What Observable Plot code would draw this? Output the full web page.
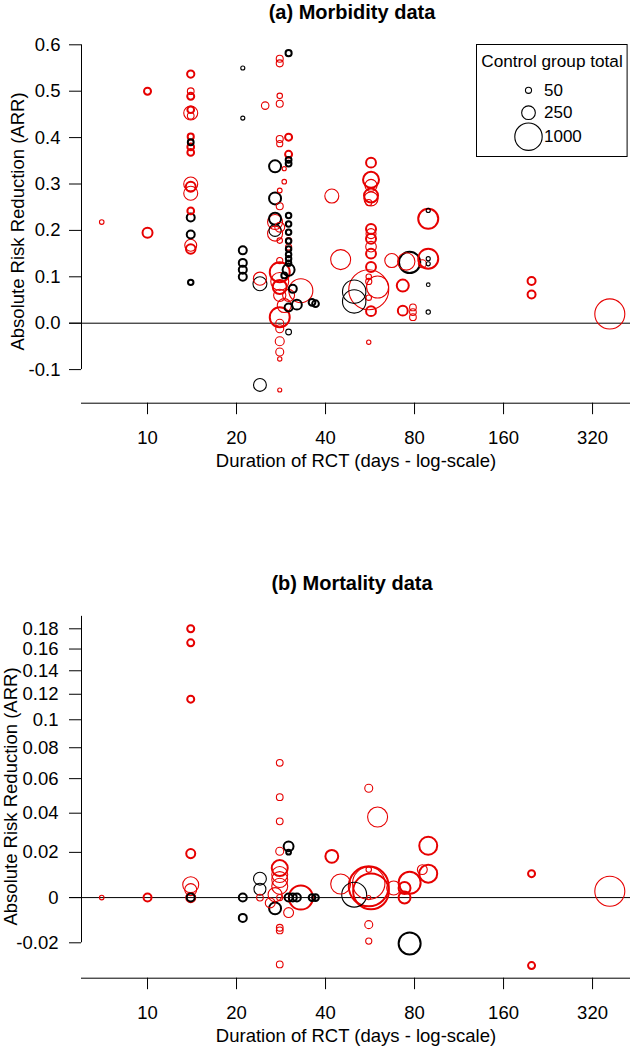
<!DOCTYPE html>
<html>
<head>
<meta charset="utf-8">
<script src="https://cdn.jsdelivr.net/npm/d3@7"></script>
<script src="https://cdn.jsdelivr.net/npm/@observablehq/plot@0.6"></script>
<style>
  html, body { margin: 0; padding: 0; background: #fff; }
  #wrap { position: relative; width: 630px; height: 1047px; overflow: hidden; background: #fff;
          font-family: "Liberation Sans", Arial, Helvetica, sans-serif; color: #000; }
  .ttl { position: absolute; left: 0; width: 704px; text-align: center; font-weight: bold;
         font-size: 20px; line-height: 24px; }
  .pnl { position: absolute; left: 0; }
  #legend { position: absolute; left: 476px; top: 44px; }
</style>
</head>
<body>
<div id="wrap">
  <div class="ttl" style="top:0px">(a) Morbidity data</div>
  <div id="pa" class="pnl" style="top:0px"></div>
  <div class="ttl" style="top:571px">(b) Mortality data</div>
  <div id="pb" class="pnl" style="top:500px"></div>
  <div id="legend"></div>
</div>
<script>
// ---------- shared axis values ----------
const xTicks = [10, 20, 40, 80, 160, 320];
const aYTicks = [-0.1, 0, 0.1, 0.2, 0.3, 0.4, 0.5, 0.6];
const bYTicks = [-0.02, 0, 0.02, 0.04, 0.06, 0.08, 0.1, 0.12, 0.14, 0.16, 0.18];
const legendSizes = [50, 250, 1000];
const legendTitle = "Control group total";
const xLabel = "Duration of RCT (days - log-scale)";
const yLabel = "Absolute Risk Reduction (ARR)";

// ---------- (a) Morbidity data ----------
const aDays = [
  7,10,10,14,14,14,14,14,14,14,
  14,14,14,14,14,14,14,14,14,14,
  14,14,21,21,21,21,21,21,24,24,
  24,25,27,27,27,27,27,27,28,28,
  28,28,28,28,29,29,28,28,28,28,
  28,28,28,28,28,29,28,28,28,28,
  28,28,28,30,30,30,30,30,30,30,
  30,30,30,30,30,30,30,30,30,29,
  31,30,30,30,32,33,36,37,42,45,
  50,50,57,57,57,57,57,56,57,57,
  57,57,57,57,56,56,56,57,56,56,
  60,67,73,73,75,77,79,79,79,85,
  89,89,89,89,89,89,89,199,199,366
];
const aARR = [
  0.218,0.500,0.195,0.537,0.500,0.489,0.460,0.453,0.447,0.402,
  0.390,0.380,0.368,0.300,0.294,0.280,0.242,0.228,0.191,0.168,
  0.160,0.088,0.550,0.442,0.157,0.130,0.115,0.100,0.085,0.096,
  -0.133,0.469,0.338,0.269,0.225,0.200,0.218,0.193,0.570,0.560,
  0.490,0.473,0.397,0.387,0.333,0.305,0.286,0.252,0.207,0.178,
  0.135,0.110,0.090,0.078,0.060,0.038,0.013,0.000,-0.012,-0.039,
  -0.062,-0.077,-0.144,0.582,0.401,0.364,0.352,0.344,0.232,0.214,
  0.196,0.177,0.160,0.148,0.139,0.129,0.178,0.164,0.115,0.103,
  0.074,0.060,0.034,-0.019,0.040,0.070,0.045,0.042,0.274,0.137,
  0.068,0.047,0.346,0.309,0.297,0.275,0.268,0.260,0.203,0.193,
  0.182,0.165,0.150,0.121,0.100,0.090,0.055,0.026,-0.041,0.072,
  0.078,0.135,0.081,0.027,0.133,0.131,0.034,0.024,0.013,0.128,
  0.139,0.225,0.243,0.139,0.128,0.083,0.024,0.091,0.062,0.020
];
const aControlN = [
  28,65,133,70,60,65,60,261,60,50,
  45,60,60,261,130,261,60,85,85,190,
  120,40,22,22,85,85,85,85,260,230,
  220,75,192,192,192,192,300,300,65,65,
  40,65,65,50,22,28,30,65,130,40,
  50,530,430,260,200,260,530,85,85,108,
  85,25,22,50,65,65,45,45,40,40,
  40,40,40,40,40,40,50,50,192,45,
  85,190,85,45,130,770,60,60,261,530,
  730,730,130,340,192,261,261,50,133,133,
  133,150,130,130,40,50,40,130,25,2130,
  650,261,192,130,400,600,60,60,60,85,
  533,533,22,22,22,18,25,85,85,1200
];
const aGroup = [
  "R","R","R","R","R","R","R","R","R","R",
  "B","R","R","R","R","R","R","B","B","R",
  "R","B","B","B","B","B","B","B","B","R",
  "B","R","B","B","B","B","R","R","R","R",
  "R","R","R","R","R","R","R","R","R","R",
  "R","R","R","R","R","R","R","R","R","R",
  "R","R","R","B","R","R","B","B","B","B",
  "B","B","B","B","B","B","R","R","B","B",
  "B","R","B","B","B","R","B","B","R","R",
  "B","B","R","R","R","R","R","R","R","R",
  "R","R","R","R","R","R","R","R","R","R",
  "R","R","R","R","R","B","R","R","R","R",
  "R","R","B","B","B","B","B","R","R","R"
];
const aTrials = [
  1,2,2,2,1,2,2,1,1,2,
  2,2,2,1,2,1,2,2,2,1,
  2,2,1,1,2,2,2,2,1,1,
  1,1,2,2,2,1,1,1,1,1,
  1,1,1,1,1,1,1,1,1,1,
  1,2,1,2,1,1,2,1,1,1,
  1,1,1,2,2,2,2,2,2,2,
  2,2,2,2,2,2,1,1,2,2,
  2,1,2,1,2,1,2,2,1,1,
  1,1,2,2,1,2,1,1,2,1,
  2,1,2,2,1,1,1,2,1,1,
  1,1,2,2,1,2,1,1,1,1,
  2,2,1,1,1,1,1,2,2,1
];

// ---------- (b) Mortality data ----------
const bDays = [
  7,10,14,14,14,14,14,14,14,14,
  21,21,24,24,24,26,27,27,28,28,
  28,28,28,28,28,28,28,28,28,28,
  30,30,30,30,31,32,33,36,37,42,
  45,50,56,56,56,57,56,56,56,56,
  60,68,74,74,77,77,85,89,89,199,
  199,366
];
const bARR = [
  0,0,0.180,0.166,0.116,0.0194,0.0054,0.0033,0,0,
  0,-0.0086,0.0080,0.0035,0,-0.0022,0.0012,-0.0045,0.070,0.049,
  0.0356,0.0205,0.0127,0.0098,0.0076,0.0047,0,-0.0130,-0.0142,-0.0307,
  0.0229,0.0201,0,-0.0063,0,0,0,0,0,0.0181,
  0.0057,0.0012,0.0542,0.0060,0.0047,0.0026,0.0120,0,-0.0116,-0.0192,
  0.0379,0.0040,0.0040,0,0.0062,-0.0203,0.0120,0.0232,0.0102,0.0102,
  -0.0313,0.0026
];
const bControlN = [
  28,85,65,65,65,108,340,190,133,85,
  85,85,220,190,60,130,261,190,60,60,
  60,85,340,340,340,340,50,60,60,60,
  130,30,85,130,85,85,770,60,60,220,
  530,830,85,1400,2130,1700,40,22,85,50,
  533,261,190,190,645,645,130,430,430,65,
  65,1200
];
const bGroup = [
  "R","R","R","R","R","R","R","R","R","B",
  "B","B","B","B","R","R","R","B","R","R",
  "R","R","R","R","R","R","R","R","R","R",
  "B","B","B","R","B","B","R","B","B","R",
  "R","B","R","R","R","R","R","R","R","R",
  "R","R","R","R","R","B","R","R","R","R",
  "R","R"
];
const bTrials = [
  1,2,2,2,2,2,1,1,1,2,
  2,2,1,1,1,1,1,2,1,1,
  1,1,2,1,1,1,1,1,1,1,
  2,2,2,1,2,2,2,2,2,2,
  1,1,1,1,2,2,1,1,1,1,
  1,1,2,2,2,2,1,2,2,2,
  2,1
];

function rows(days, arr, n, grp, k) {
  return days.map((d, i) => ({days: d, arr: arr[i], n: n[i], group: grp[i], trials: k[i]}));
}
const dataA = rows(aDays, aARR, aControlN, aGroup, aTrials);
const dataB = rows(bDays, bARR, bControlN, bGroup, bTrials);

const FONT = "'Liberation Sans', Arial, Helvetica, sans-serif";
const rOpts = {type: "sqrt", domain: [0, 1000], range: [0, 13.7]};
const xOpts = {type: "log", domain: [5.98, 430]};
const colorOpts = {domain: ["R", "B"], range: ["#e60000", "#000000"]};

function panel({data, height, marginTop, marginBottom, y, yTicks, yFmt, yAxisTop, tickPadY, ylabDx}) {
  return Plot.plot({
    width: 630, height, marginLeft: 81, marginRight: 0, marginTop, marginBottom,
    style: {fontFamily: FONT, fontSize: "18.5px", color: "#000", background: "transparent", overflow: "visible"},
    x: xOpts, y, r: rOpts, color: colorOpts,
    marks: [
      Plot.ruleY([0], {insetLeft: -12, stroke: "#000", strokeWidth: 1}),
      Plot.ruleX([xOpts.domain[0]], {y1: yTicks[0], y2: yAxisTop, stroke: "#000", strokeWidth: 1}),
      Plot.frame({anchor: "bottom", stroke: "#000", strokeWidth: 1}),
      Plot.dot(data, {x: "days", y: "arr", r: "n", stroke: "group", fill: "none",
                      strokeWidth: d => d.trials > 1 ? 2 : 1.1}),
      // tick marks only (log-scale label thinning would drop "80")
      Plot.axisX({ticks: xTicks, tickFormat: () => "", tickSize: 11.5, tickPadding: 16, label: null}),
      Plot.text(xTicks, {x: d => d, frameAnchor: "bottom", dy: 35, text: d => String(d),
                         lineAnchor: "middle", textAnchor: "middle", fontSize: 18.5}),
      Plot.axisY({ticks: yTicks, tickFormat: yFmt, tickSize: 12, tickPadding: tickPadY, label: null}),
      Plot.text([xLabel], {frameAnchor: "bottom", dy: 57.5, text: d => d, fontSize: 18.5,
                           lineAnchor: "middle", textAnchor: "middle"}),
      Plot.text([yLabel], {frameAnchor: "left", rotate: -90, dx: ylabDx, text: d => d, fontSize: 18.5,
                           lineAnchor: "middle", textAnchor: "middle"})
    ]
  });
}

const plotA = panel({
  data: dataA, height: 500, marginTop: 39.3, marginBottom: 97.3,
  y: {domain: [-0.1, 0.6], range: [369.1, 44.3]},
  yTicks: aYTicks, yFmt: d => d.toFixed(1), yAxisTop: 0.6, tickPadY: 9, ylabDx: -63
});
document.getElementById("pa").appendChild(plotA);

const plotB = panel({
  data: dataB, height: 547, marginTop: 114.3, marginBottom: 69.3,
  y: {type: "symlog", constant: 0.12, domain: [-0.02, 0.18], range: [442.3, 128.3]},
  yTicks: bYTicks, yFmt: d => String(+d.toFixed(2)), yAxisTop: 0.193, tickPadY: 11, ylabDx: -70
});
document.getElementById("pb").appendChild(plotB);

// ---------- legend (sizes from the same r scale) ----------
const rScale = d3.scaleSqrt().domain(rOpts.domain).range(rOpts.range);
const lg = d3.select("#legend").append("svg")
  .attr("width", 152).attr("height", 114)
  .style("font-family", FONT).style("display", "block");
lg.append("rect").attr("x", 0.5).attr("y", 0.5).attr("width", 150.6).attr("height", 112)
  .attr("fill", "#fff").attr("stroke", "#000").attr("stroke-width", 1);
lg.append("text").attr("x", 76).attr("y", 17).attr("text-anchor", "middle")
  .attr("dominant-baseline", "central").attr("font-size", 17.2).text(legendTitle);
const rowY = [46.3, 68.7, 92.7];
legendSizes.forEach((s, i) => {
  lg.append("circle").attr("cx", 52.5).attr("cy", rowY[i]).attr("r", rScale(s))
    .attr("fill", "none").attr("stroke", "#000").attr("stroke-width", 1.1);
  lg.append("text").attr("x", 68).attr("y", rowY[i]).attr("dominant-baseline", "central")
    .attr("font-size", 17).text(String(s));
});
</script>
</body>
</html>
